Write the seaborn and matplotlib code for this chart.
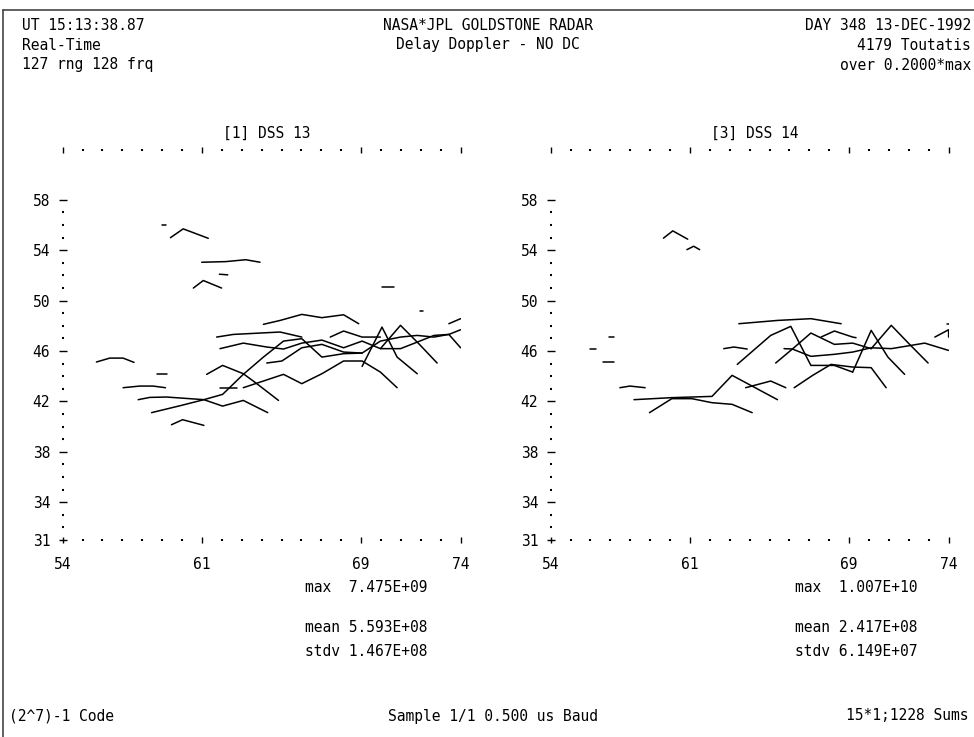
import numpy as np
import pandas as pd
import matplotlib
matplotlib.use("Agg")
import matplotlib.pyplot as plt
from matplotlib.lines import Line2D
import seaborn as sns

# -----------------------------------
# Data: contour segments (doppler bin, delay bin)
# -----------------------------------
dss13_segments = [
    ([59.0, 59.2], [56.0, 56.0]),
    ([59.42, 60.06, 61.32], [55.0, 55.7, 54.95]),
    ([60.99, 62.2, 63.2, 63.92], [53.05, 53.1, 53.25, 53.05]),
    ([61.88, 62.3], [52.1, 52.05]),
    ([60.57, 61.07, 61.99], [51.0, 51.6, 51.0]),
    ([70.05, 70.64], [51.05, 51.05]),
    ([71.95, 72.1], [49.15, 49.15]),
    ([73.41, 74.0], [48.17, 48.57]),
    ([55.70, 56.37, 57.04, 57.59], [45.13, 45.44, 45.44, 45.10]),
    ([58.72, 59.27], [44.17, 44.17]),
    ([57.04, 57.88, 58.55, 59.17], [43.09, 43.22, 43.22, 43.09]),
    ([57.80, 58.38, 59.22, 61.10, 62.04, 63.08, 64.31],
     [42.14, 42.32, 42.35, 42.14, 41.63, 42.08, 41.11]),
    ([58.47, 59.98, 61.10, 62.04, 63.08, 64.09, 65.10, 66.02, 67.03, 68.12, 69.05],
     [41.11, 41.69, 42.14, 42.56, 44.15, 45.52, 46.79, 46.98, 45.52, 45.79, 45.84]),
    ([59.47, 60.03, 61.10], [40.15, 40.55, 40.10]),
    ([61.24, 62.04, 63.08, 63.76, 64.85], [44.15, 44.86, 44.20, 43.41, 42.08]),
    ([61.91, 62.75], [43.09, 43.09]),
    ([63.08, 65.10, 66.02, 67.03, 68.12, 69.05, 69.97, 70.81],
     [43.09, 44.15, 43.41, 44.20, 45.21, 45.21, 44.33, 43.09]),
    ([61.74, 62.58, 64.93, 66.02], [47.11, 47.32, 47.51, 47.11]),
    ([61.91, 63.08, 64.26, 65.10, 66.02, 67.03, 68.12, 69.05, 69.97, 70.98, 71.82, 72.66, 73.41, 74.0],
     [46.19, 46.63, 46.32, 46.16, 46.63, 46.87, 46.26, 46.79, 46.19, 46.19, 46.71, 47.24, 47.32, 46.26]),
    ([64.09, 64.93, 66.02, 67.03, 68.12, 68.88], [48.12, 48.43, 48.91, 48.65, 48.88, 48.17]),
    ([64.26, 65.02, 66.02, 67.03, 68.12, 69.05, 69.97, 70.98, 71.82, 72.66, 73.41, 74.0],
     [45.05, 45.21, 46.26, 46.53, 45.92, 45.84, 46.79, 47.11, 47.24, 47.11, 47.32, 47.69]),
    ([69.05, 70.05, 70.81, 71.82], [44.78, 47.90, 45.52, 44.20]),
    ([69.97, 70.98, 71.90, 72.82], [46.19, 48.04, 46.58, 45.05]),
    ([67.45, 68.12, 69.05, 69.97], [47.11, 47.59, 47.11, 47.11]),
]

dss14_segments = [
    ([59.67, 60.14, 60.89], [54.96, 55.54, 54.88]),
    ([60.85, 61.19, 61.49], [54.05, 54.32, 54.05]),
    ([55.97, 56.27], [46.16, 46.16]),
    ([56.93, 57.2], [47.11, 47.11]),
    ([56.64, 57.18], [45.10, 45.10]),
    ([57.48, 57.99, 58.75], [43.09, 43.22, 43.09]),
    ([58.19, 60.09, 62.11, 63.12, 64.22, 65.40], [42.14, 42.30, 42.40, 44.07, 43.14, 42.14]),
    ([58.97, 60.09, 61.10, 62.11, 63.12, 64.13], [41.11, 42.22, 42.22, 41.90, 41.77, 41.11]),
    ([63.38, 65.06, 66.07, 67.08, 68.26, 69.18], [44.94, 47.24, 47.96, 44.86, 44.86, 44.33]),
    ([63.80, 65.06, 65.82], [43.09, 43.62, 43.09]),
    ([66.24, 67.17, 68.09, 69.18, 70.11, 70.86], [43.09, 44.07, 44.94, 44.73, 44.68, 43.09]),
    ([65.73, 66.15, 67.08, 68.26, 69.18, 70.11, 71.12, 72.8, 74.0],
     [46.19, 46.16, 45.58, 45.74, 45.92, 46.26, 46.19, 46.63, 46.05]),
    ([65.31, 66.15, 67.08, 68.26, 69.18, 70.11], [45.05, 46.16, 47.43, 46.53, 46.63, 46.19]),
    ([67.59, 68.26, 69.18, 69.35], [47.11, 47.59, 47.11, 47.06]),
    ([63.46, 65.40, 67.08, 68.60], [48.17, 48.43, 48.57, 48.17]),
    ([70.11, 71.12, 72.04, 72.97], [46.19, 48.04, 46.53, 45.05]),
    ([69.18, 70.11, 70.95, 71.79], [44.33, 47.64, 45.52, 44.15]),
    ([73.31, 74.0, 74.0], [47.11, 47.69, 47.11]),
    ([73.9, 74.0], [48.17, 48.17]),
    ([62.70, 63.21, 63.88], [46.19, 46.32, 46.16]),
]

panel_titles = ["[1] DSS 13", "[3] DSS 14"]
x_major = [54, 61, 69, 74]
y_major = [31, 34, 38, 42, 46, 50, 54, 58]

header_left = ["UT 15:13:38.87", "Real-Time", "127 rng 128 frq"]
header_mid = ["NASA*JPL GOLDSTONE RADAR", "Delay Doppler - NO DC"]
header_right = ["DAY 348 13-DEC-1992", "4179 Toutatis", "over 0.2000*max"]
stats_13 = ["max  7.475E+09", "mean 5.593E+08", "stdv 1.467E+08"]
stats_14 = ["max  1.007E+10", "mean 2.417E+08", "stdv 6.149E+07"]
footer = ["(2^7)-1 Code", "Sample 1/1 0.500 us Baud", "15*1;1228 Sums"]


def to_frame(segments):
    rows = []
    for i, (xs, ys) in enumerate(segments):
        for k, (x, y) in enumerate(zip(xs, ys)):
            rows.append({"seg": i, "order": k, "x": x, "y": y})
    return pd.DataFrame(rows)


# -----------------------------------
# Figure setup
# -----------------------------------
sns.set_style("white")
plt.rcParams["font.family"] = ["DejaVu Sans Mono"]
plt.rcParams["text.color"] = "black"
plt.rcParams["xtick.color"] = "black"
plt.rcParams["ytick.color"] = "black"
FS = 10.5

W, H = 974, 737
fig = plt.figure(figsize=(W / 100, H / 100), dpi=100)


def fx(px):
    return px / W


def fy(py):
    return 1 - py / H


# border lines from the scanned page
fig.add_artist(Line2D([fx(3), 1], [fy(10), fy(10)], color="#444444", lw=1.2, transform=fig.transFigure))
fig.add_artist(Line2D([fx(3), fx(3)], [fy(10), 0], color="#444444", lw=1.2, transform=fig.transFigure))

# header
for i, t in enumerate(header_left):
    fig.text(fx(22), fy(25 + 20 * i), t, ha="left", va="center", fontsize=FS)
for i, t in enumerate(header_mid):
    fig.text(fx(488), fy(25 + 20 * i), t, ha="center", va="center", fontsize=FS)
for i, t in enumerate(header_right):
    fig.text(fx(971), fy(25 + 20 * i), t, ha="right", va="center", fontsize=FS)

# -----------------------------------
# Panels
# -----------------------------------
panels = [
    (dss13_segments, 62.6, stats_13, 366),
    (dss14_segments, 550.6, stats_14, 856),
]

for idx, (segments, left_px, stats, stat_cx) in enumerate(panels):
    ax = fig.add_axes([fx(left_px), fy(540), 398 / W, (540 - 149.5) / H])
    df = to_frame(segments)
    sns.lineplot(data=df, x="x", y="y", units="seg", estimator=None, sort=False,
                 color="black", lw=1.1, ax=ax, legend=False)
    ax.set_xlim(54, 74)
    ax.set_ylim(31, 62)
    ax.set_xlabel("")
    ax.set_ylabel("")
    for s in ax.spines.values():
        s.set_visible(False)

    ax.set_xticks(x_major)
    ax.set_xticks([v for v in range(55, 74) if v not in x_major], minor=True)
    ax.set_yticks(y_major)
    ax.set_yticks([v for v in range(32, 58) if v not in y_major], minor=True)
    ax.set_xticklabels([str(v) for v in x_major], fontsize=FS)
    ax.set_yticklabels([str(v) for v in y_major], fontsize=FS)

    ax.tick_params(axis="x", which="both", top=True, bottom=True, direction="inout", color="black")
    ax.tick_params(axis="x", which="major", length=5, width=1, pad=10)
    ax.tick_params(axis="x", which="minor", length=1.5, width=1.5)
    ax.tick_params(axis="y", which="both", left=True, right=False, direction="inout", color="black")
    ax.tick_params(axis="y", which="major", length=6, width=1, pad=6)
    ax.tick_params(axis="y", which="minor", length=1.5, width=1.5)

    cx = left_px + 199 + 5
    fig.text(fx(cx), fy(133), panel_titles[idx], ha="center", va="center", fontsize=FS)

    for j, (t, py) in enumerate(zip(stats, [588, 628, 651])):
        fig.text(fx(stat_cx), fy(py), t, ha="center", va="center", fontsize=FS)

# footer
fig.text(fx(9), fy(716), footer[0], ha="left", va="center", fontsize=FS)
fig.text(fx(493), fy(716), footer[1], ha="center", va="center", fontsize=FS)
fig.text(fx(969), fy(716), footer[2], ha="right", va="center", fontsize=FS)

fig.savefig("out.png", dpi=100, facecolor="white")
